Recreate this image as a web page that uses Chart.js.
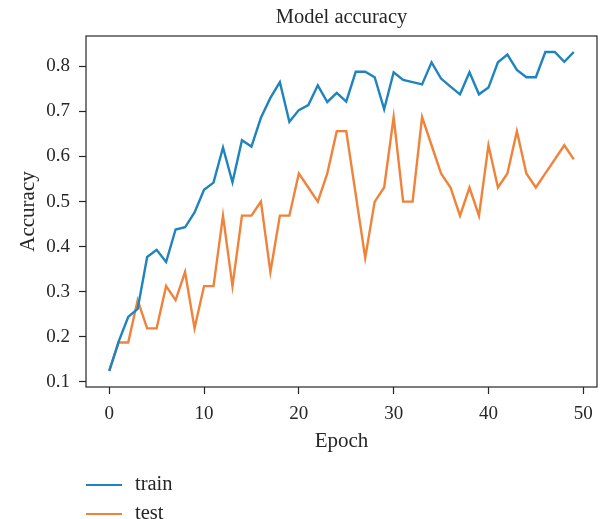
<!DOCTYPE html>
<html>
<head>
<meta charset="utf-8">
<script src="https://cdn.jsdelivr.net/npm/chart.js@4"></script>
<style>
  html, body { margin: 0; padding: 0; background: #ffffff; }
  #wrap { width: 602px; height: 519px; }
</style>
</head>
<body>
<div id="wrap"><canvas id="c" width="602" height="519"></canvas></div>
<script>
const epochs = [0,1,2,3,4,5,6,7,8,9,10,11,12,13,14,15,16,17,18,19,20,21,22,23,24,25,26,27,28,29,30,31,32,33,34,35,36,37,38,39,40,41,42,43,44,45,46,47,48,49];
const trainAcc = [0.124,0.19,0.244,0.262,0.377,0.393,0.366,0.438,0.443,0.476,
                  0.526,0.542,0.62,0.543,0.636,0.622,0.686,0.73,0.765,0.677,
                  0.703,0.714,0.758,0.721,0.741,0.722,0.788,0.788,0.776,0.705,
                  0.787,0.770,0.765,0.760,0.809,0.773,0.755,0.738,0.787,0.738,
                  0.753,0.809,0.826,0.792,0.776,0.776,0.832,0.832,0.810,0.832];
const testAcc = [0.125,0.1875,0.1875,0.28125,0.21875,0.21875,0.3125,0.28125,0.34375,0.21875,
                 0.3125,0.3125,0.46875,0.3125,0.46875,0.46875,0.5,0.34375,0.46875,0.46875,
                 0.5625,0.53125,0.5,0.5625,0.65625,0.65625,0.516,0.375,0.5,0.53125,
                 0.6875,0.5,0.5,0.6875,0.625,0.5625,0.53125,0.46875,0.53125,0.46875,
                 0.625,0.53125,0.5625,0.65625,0.5625,0.53125,0.5625,0.59375,0.625,0.59375];
const xTicks = [0,10,20,30,40,50];
const yTicks = [0.1,0.2,0.3,0.4,0.5,0.6,0.7,0.8];
const seriesNames = ['train','test'];
const seriesColors = ['#1f83bd','#f0823a'];
const chartTitle = 'Model accuracy';

const FONT = "'Liberation Serif', 'DejaVu Serif', serif";
const TEXT = '#262626';

const frameTitleLegend = {
  id: 'frameTitleLegend',
  afterDraw(chart) {
    const {ctx, chartArea: a} = chart;
    ctx.save();
    ctx.strokeStyle = '#262626';
    ctx.lineWidth = 1.2;
    ctx.strokeRect(a.left, a.top, a.right - a.left, a.bottom - a.top);
    // title centred over the plot area
    ctx.fillStyle = TEXT;
    ctx.font = "20.5px " + FONT;
    ctx.textAlign = 'center';
    ctx.textBaseline = 'middle';
    ctx.fillText(chartTitle, (a.left + a.right) / 2, 18);
    // legend
    const rows = [485, 514];
    ctx.font = "20.5px " + FONT;
    ctx.textBaseline = 'middle';
    ctx.textAlign = 'left';
    seriesNames.forEach((name, i) => {
      ctx.strokeStyle = seriesColors[i];
      ctx.lineWidth = 2;
      ctx.beginPath();
      ctx.moveTo(86, rows[i]);
      ctx.lineTo(122, rows[i]);
      ctx.stroke();
      ctx.fillStyle = TEXT;
      ctx.fillText(name, 135, rows[i]);
    });
    ctx.restore();
  }
};

new Chart(document.getElementById('c'), {
  type: 'line',
  data: {
    datasets: [
      { label: seriesNames[0], data: epochs.map((e, i) => ({x: e, y: trainAcc[i]})),
        borderColor: seriesColors[0], borderWidth: 2.4, pointRadius: 0, tension: 0, fill: false },
      { label: seriesNames[1], data: epochs.map((e, i) => ({x: e, y: testAcc[i]})),
        borderColor: seriesColors[1], borderWidth: 2.4, pointRadius: 0, tension: 0, fill: false }
    ]
  },
  options: {
    responsive: false,
    animation: false,
    layout: { padding: { left: 0, right: 5, top: 36, bottom: 62 } },
    plugins: {
      legend: { display: false },
      tooltip: { enabled: false },
      title: { display: false }
    },
    scales: {
      x: {
        type: 'linear', min: -2.45, max: 51.45,
        afterBuildTicks: s => { s.ticks = xTicks.map(v => ({value: v})); },
        afterFit: s => { s.height = 70; },
        grid: { display: true, drawOnChartArea: false, drawTicks: true, tickLength: 7, tickColor: '#262626', tickWidth: 1.2 },
        border: { display: false },
        ticks: { color: TEXT, padding: 9, maxRotation: 0, font: { family: FONT, size: 19 } },
        title: { display: true, text: 'Epoch', color: TEXT, padding: { top: 0, bottom: 3 },
                 font: { family: FONT, size: 21, lineHeight: 1.2 } }
      },
      y: {
        type: 'linear', min: 0.0886, max: 0.8674,
        afterBuildTicks: s => { s.ticks = yTicks.map(v => ({value: v})); },
        afterFit: s => { s.width = 86; },
        grid: { display: true, drawOnChartArea: false, drawTicks: true, tickLength: 7, tickColor: '#262626', tickWidth: 1.2 },
        border: { display: false },
        ticks: { color: TEXT, padding: 9, font: { family: FONT, size: 19 },
                 callback: v => v.toFixed(1) },
        title: { display: true, text: 'Accuracy', color: TEXT, padding: { top: 16, bottom: 0 },
                 font: { family: FONT, size: 21, lineHeight: 1.2 } }
      }
    }
  },
  plugins: [frameTitleLegend]
});
</script>
</body>
</html>
